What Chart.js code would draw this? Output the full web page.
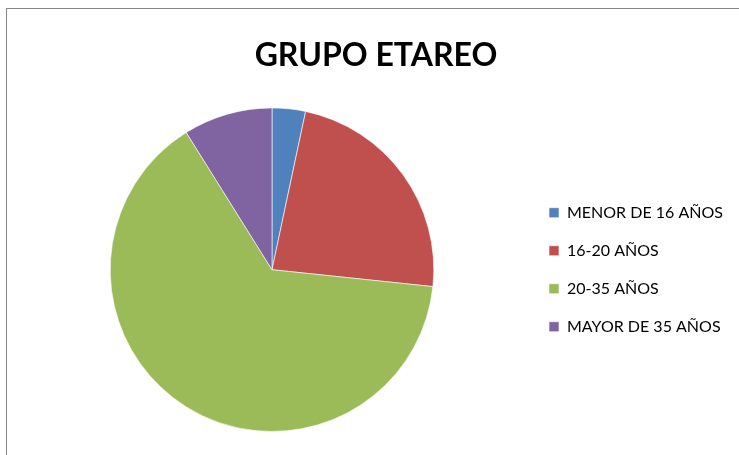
<!DOCTYPE html>
<html>
<head>
<meta charset="utf-8">
<script src="https://cdn.jsdelivr.net/npm/chart.js"></script>
<style>
    html, body { margin: 0; padding: 0; background: #ffffff; overflow: hidden; }
    body { width: 739px; height: 455px; position: relative; }
    .frame {
        position: absolute;
        left: 6px;
        top: 8px;
        width: 740px;
        height: 460px;
        border: 1px solid #868686;
        box-sizing: border-box;
    }
    .frame canvas { display: block; }
</style>
</head>
<body>
<div class="frame">
    <canvas id="chart" width="738" height="458"></canvas>
</div>
<script>
// Age groups (counts, total 90)
const categories = ["MENOR DE 16 AÑOS", "16-20 AÑOS", "20-35 AÑOS", "MAYOR DE 35 AÑOS"];
const values = [3, 21, 58, 8];
const sliceColors = [
    '#4F81BD', // Blue
    '#C0504D', // Red
    '#9BBB59', // Green
    '#8064A2'  // Purple
];
const chartTitle = "GRUPO ETAREO";

// Keep the legend column a fixed width so the pie and the title sit where Excel put them
const LEGEND_WIDTH = 208;
const legendWidthPlugin = {
    id: 'legendWidth',
    beforeLayout(chart) {
        const legend = chart.legend;
        if (legend && !legend._fixedWidth) {
            const fit = legend.fit.bind(legend);
            legend.fit = function () {
                fit();
                this.width = LEGEND_WIDTH;
            };
            legend._fixedWidth = true;
        }
    }
};

const ctx = document.getElementById("chart").getContext("2d");

new Chart(ctx, {
    type: 'pie',
    data: {
        labels: categories,
        datasets: [{
            data: values,
            backgroundColor: sliceColors,
            borderColor: 'rgba(255, 255, 255, 0.6)',  /* faint seam between slices */
            borderWidth: 1,
            hoverOffset: 0,
        }],
    },
    plugins: [legendWidthPlugin],
    options: {
        responsive: false,
        animation: false,
        events: [],
        layout: {
            padding: {
                top: 0,
                bottom: 35,
                left: 10,
                right: 10
            }
        },
        plugins: {
            title: {
                display: true,
                text: chartTitle,
                color: '#000000',
                font: {
                    family: 'Lato',
                    weight: 'bold',
                    size: 32
                },
                padding: { top: 27, bottom: 33 }
            },
            legend: {
                display: true,
                position: 'right',
                align: 'center',
                fullSize: false,
                labels: {
                    boxWidth: 10,
                    boxHeight: 10,
                    padding: 22,
                    color: '#000000',
                    font: {
                        family: 'Lato',
                        size: 16
                    }
                }
            },
            tooltip: { enabled: false }
        }
    }
});
</script>
</body>
</html>
